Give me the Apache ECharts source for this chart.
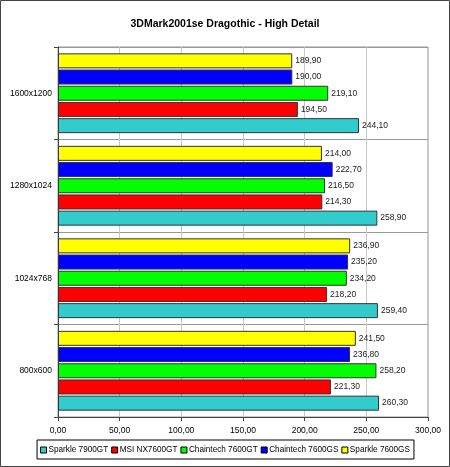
<!DOCTYPE html>
<html><head><meta charset="utf-8">
<script src="https://cdn.jsdelivr.net/npm/echarts@6/dist/echarts.min.js"></script>
<style>html,body{margin:0;padding:0;background:#fff}#c{width:450px;height:467px}</style>
</head><body><div id="c"></div>
<script>
var categories = ['800x600', '1024x768', '1280x1024', '1600x1200'];
var seriesNames = ['Sparkle 7900GT', 'MSI NX7600GT', 'Chaintech 7600GT', 'Chaintech 7600GS', 'Sparkle 7600GS'];
var sparkle7900GT = [260.30, 259.40, 258.90, 244.10];
var msiNX7600GT = [221.30, 218.20, 214.30, 194.50];
var chaintech7600GT = [258.20, 234.20, 216.50, 219.10];
var chaintech7600GS = [236.80, 235.20, 222.70, 190.00];
var sparkle7600GS = [241.50, 236.90, 214.00, 189.90];
var colors = ['#33CCCC', '#FF0000', '#00FF00', '#0000FF', '#FFFF00'];
var allValues = [sparkle7900GT, msiNX7600GT, chaintech7600GT, chaintech7600GS, sparkle7600GS];
var FONT = 'Arial, "Liberation Sans"';

function fmt(v){ return v.toFixed(2).replace('.', ','); }

var chart = echarts.init(document.getElementById('c'));
var series = [];
for (var i = seriesNames.length - 1; i >= 0; i--) {
  series.push({
    name: seriesNames[i], type: 'bar', data: allValues[i],
    barWidth: 15, barGap: '8%',
    itemStyle: {color: colors[i], borderColor: '#333', borderWidth: 1},
    label: {show: true, position: 'right', distance: 3, fontFamily: FONT, fontSize: 8.5, color: '#222',
      formatter: function(p){ return fmt(p.value); }}
  });
}
chart.setOption({
  animation: false,
  title: {text: '3DMark2001se Dragothic - High Detail', left: 'center', top: 14,
    textStyle: {fontFamily: FONT, fontSize: 10.5, fontWeight: 'bold', color: '#000'}},
  graphic: [{type: 'rect', shape: {x: 0.5, y: 0.5, width: 449, height: 466}, style: {fill: 'none', stroke: '#444', lineWidth: 1}, silent: true}],
  legend: {data: seriesNames, top: 440, left: 'center', icon: 'rect', itemWidth: 6, itemHeight: 6, itemGap: 3,
    padding: [6, 4, 5, 3], borderColor: '#000', borderWidth: 1, width: 440,
    itemStyle: {borderColor: '#000', borderWidth: 1},
    textStyle: {fontFamily: FONT, fontSize: 8.2, color: '#000', padding: [0, 0, 0, -3]}},
  grid: {left: 58, right: 22, top: 47, bottom: 50, show: true, borderColor: '#999', borderWidth: 1, containLabel: false},
  xAxis: {type: 'value', min: 0, max: 300, interval: 50,
    axisLine: {show: true, lineStyle: {color: '#444'}},
    axisTick: {show: true, length: 4, lineStyle: {color: '#444'}},
    splitLine: {show: true, lineStyle: {color: '#c8c8c8'}},
    axisLabel: {fontFamily: FONT, fontSize: 8.5, color: '#000', margin: 9, formatter: function(v){ return fmt(v); }}},
  yAxis: {type: 'category', data: categories,
    axisLine: {show: true, lineStyle: {color: '#444'}},
    axisTick: {show: true, length: 4, lineStyle: {color: '#444'}},
    splitLine: {show: true, lineStyle: {color: '#999'}},
    axisLabel: {fontFamily: FONT, fontSize: 8.5, color: '#000', margin: 6}},
  series: series
});
</script></body></html>
